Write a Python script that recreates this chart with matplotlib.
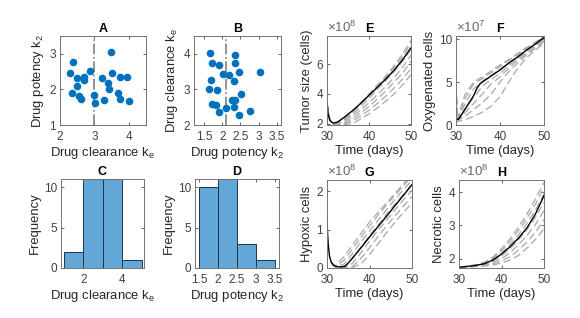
import matplotlib
matplotlib.use('Agg')
import matplotlib.pyplot as plt
import numpy as np

plt.rcParams['font.family'] = ['Liberation Sans', 'DejaVu Sans']
plt.rcParams['mathtext.fontset'] = 'custom'
plt.rcParams['mathtext.rm'] = 'Liberation Sans'
plt.rcParams['mathtext.it'] = 'Liberation Sans:italic'

# parameter samples (drug clearance ke, drug potency k2), 25 sets
ke = [2.29, 2.38, 2.36, 2.48, 2.50, 2.56, 2.60, 2.70, 2.70, 2.88, 2.98, 3.01, 3.23,
      3.27, 3.40, 3.43, 3.49, 3.50, 3.68, 3.73, 3.74, 3.96, 4.02, 1.80, 1.65]
k2 = [2.45, 2.76, 1.90, 2.09, 2.33, 1.82, 1.72, 2.36, 2.26, 2.53, 1.85, 1.62, 2.31,
      1.69, 2.18, 2.02, 3.05, 2.46, 1.91, 2.34, 1.73, 2.34, 1.67, 1.80, 2.65]
ke_ref = 3.0
k2_ref = 2.1
ke_bins = [1, 2, 3, 4, 5]
k2_bins = [1.5, 2, 2.5, 3, 3.5]

# best fit trajectories (black)
t_tum = [30, 30.3, 30.7, 31.5, 32.5, 34, 36, 38, 40, 42, 44, 46, 48, 50]
tumor = [3.4, 2.6, 2.2, 2.02, 2.1, 2.4, 2.85, 3.35, 3.9, 4.45, 5.0, 5.6, 6.3, 7.1]   # x1e8
t_oxy = [30, 30.5, 31, 32, 33, 34, 34.8, 35.4, 36, 38, 40, 42, 44, 46, 48, 50]
oxy = [0.7, 0.65, 1.0, 1.8, 2.6, 3.4, 4.3, 4.75, 5.0, 5.7, 6.4, 7.2, 7.9, 8.7, 9.4, 10.2]  # x1e7
t_hyp = [30, 30.3, 30.6, 31, 31.5, 32.5, 33.5, 34.3, 35, 36, 38, 40, 42, 44, 46, 48, 50]
hyp = [1.15, 0.6, 0.3, 0.15, 0.07, 0.03, 0.03, 0.05, 0.13, 0.26, 0.53, 0.81, 1.08,
       1.35, 1.63, 1.9, 2.18]  # x1e8
t_nec = [30, 32, 34, 36, 38, 40, 42, 44, 46, 48, 50]
nec = [1.74, 1.77, 1.8, 1.85, 1.96, 2.14, 2.36, 2.62, 2.93, 3.35, 3.9]  # x1e8

# sampled trajectories (grey dashed)
t_tum_s = [30, 30.5, 31, 32, 34, 36, 38, 40, 42, 44, 46, 48, 50]
tumor_s = [
    [3.4, 2.4, 2.1, 2.0, 2.3, 2.8, 3.4, 4.0, 4.6, 5.2, 5.9, 6.7, 7.6],
    [3.4, 2.4, 2.1, 2.0, 2.25, 2.7, 3.3, 3.9, 4.5, 5.1, 5.8, 6.5, 7.4],
    [3.4, 2.4, 2.1, 2.0, 2.2, 2.6, 3.1, 3.7, 4.3, 4.9, 5.5, 6.2, 7.0],
    [3.4, 2.4, 2.1, 2.0, 2.1, 2.45, 2.9, 3.4, 3.95, 4.5, 5.1, 5.8, 6.6],
    [3.4, 2.4, 2.05, 1.95, 2.0, 2.3, 2.7, 3.15, 3.65, 4.2, 4.8, 5.4, 6.2],
    [3.4, 2.4, 2.05, 1.95, 1.95, 2.15, 2.5, 2.9, 3.35, 3.85, 4.4, 5.0, 5.7],
    [3.4, 2.4, 2.0, 1.9, 1.9, 2.0, 2.3, 2.65, 3.05, 3.5, 4.0, 4.6, 5.3],
]
t_oxy_s = [30, 30.3, 32, 34, 36, 38, 40, 42, 44, 46, 48, 50]
oxy_s = [
    [4.6, 0.6, 3.5, 5.0, 5.6, 6.3, 7.0, 7.6, 8.3, 9.0, 9.6, 10.3],
    [4.6, 0.6, 3.0, 4.8, 5.4, 6.1, 6.8, 7.5, 8.2, 8.9, 9.6, 10.2],
    [4.6, 0.6, 2.4, 4.2, 5.1, 5.8, 6.5, 7.2, 8.0, 8.7, 9.4, 10.1],
    [4.6, 0.5, 1.8, 3.2, 4.5, 5.3, 6.0, 6.9, 7.7, 8.5, 9.3, 10.0],
    [4.6, 0.5, 1.4, 2.5, 3.6, 4.8, 5.6, 6.6, 7.5, 8.3, 9.1, 9.9],
    [4.6, 0.5, 1.0, 1.8, 2.6, 3.6, 5.0, 6.2, 7.2, 8.1, 8.9, 9.7],
    [4.6, 0.4, 0.6, 1.0, 1.5, 2.2, 3.3, 5.0, 6.6, 7.8, 8.7, 9.5],
]
t_hyp_s = [31, 32, 34, 36, 38, 40, 42, 44, 46, 48, 50]
hyp_s = [
    [0.15, 0.05, 0.3, 0.6, 0.9, 1.2, 1.45, 1.7, 1.95, 2.2, 2.45],
    [0.15, 0.04, 0.2, 0.5, 0.8, 1.1, 1.38, 1.65, 1.9, 2.15, 2.4],
    [0.15, 0.03, 0.1, 0.38, 0.68, 0.97, 1.25, 1.52, 1.8, 2.05, 2.3],
    [0.15, 0.03, 0.04, 0.25, 0.55, 0.85, 1.12, 1.4, 1.67, 1.93, 2.18],
    [0.15, 0.02, 0.02, 0.12, 0.4, 0.7, 0.98, 1.25, 1.52, 1.78, 2.03],
    [0.15, 0.02, 0.01, 0.04, 0.25, 0.53, 0.82, 1.1, 1.36, 1.62, 1.87],
    [0.15, 0.02, 0.01, 0.02, 0.1, 0.35, 0.63, 0.92, 1.2, 1.45, 1.7],
]
t_nec_s = [30, 32, 34, 36, 38, 40, 42, 44, 46, 48, 50]
nec_s = [
    [1.74, 1.77, 1.82, 1.9, 2.05, 2.3, 2.6, 2.95, 3.35, 3.8, 4.3],
    [1.74, 1.77, 1.81, 1.88, 2.02, 2.24, 2.52, 2.85, 3.22, 3.65, 4.15],
    [1.74, 1.76, 1.8, 1.86, 1.98, 2.16, 2.42, 2.72, 3.07, 3.47, 3.95],
    [1.74, 1.76, 1.79, 1.84, 1.94, 2.08, 2.3, 2.57, 2.88, 3.25, 3.7],
    [1.74, 1.76, 1.78, 1.82, 1.9, 2.0, 2.18, 2.42, 2.7, 3.03, 3.45],
    [1.74, 1.75, 1.77, 1.8, 1.85, 1.93, 2.06, 2.26, 2.5, 2.8, 3.18],
    [1.74, 1.75, 1.76, 1.78, 1.81, 1.87, 1.96, 2.1, 2.32, 2.58, 2.9],
]

W, H = 580, 318
fig = plt.figure(figsize=(W / 100, H / 100), dpi=100)


def make_ax(x0, x1, y0, y1):
    ax = fig.add_axes([x0 / W, 1 - y1 / H, (x1 - x0) / W, (y1 - y0) / H])
    for s in ax.spines.values():
        s.set_color('0.45')
        s.set_linewidth(0.7)
    ax.tick_params(direction='in', length=2.5, width=0.6, color='0.3',
                   labelsize=8.5, labelcolor='0.25', top=True, right=True)
    ax.tick_params(axis='x', pad=4)
    ax.tick_params(axis='y', pad=3)
    return ax


def style(ax, title, xlabel, ylabel):
    ax.set_title(title, fontsize=9, fontweight='bold', pad=3)
    ax.set_xlabel(xlabel, fontsize=9.4, color='0.15', labelpad=2)
    ax.set_ylabel(ylabel, fontsize=9.4, color='0.15', labelpad=2)


blue = '#0072BD'
hist_face = '#62a7d8'
hist_edge = '#1e3448'

# A
ax = make_ax(60, 146, 36, 125)
ax.scatter(ke, k2, s=20, color=blue, zorder=3, clip_on=True)
ax.axvline(ke_ref, color='0.5', ls='-.', lw=1.2)
ax.set_xlim(2, 4.5)
ax.set_ylim(1, 3.5)
ax.set_xticks([2, 3, 4])
ax.set_yticks([1, 2, 3])
style(ax, 'A', r'Drug clearance k$_\mathrm{e}$', r'Drug potency k$_\mathrm{2}$')

# B
ax = make_ax(194, 281, 36, 125)
ax.scatter(k2, ke, s=20, color=blue, zorder=3)
ax.axvline(k2_ref, color='0.5', ls='-.', lw=1.2)
ax.set_xlim(1.22, 3.62)
ax.set_ylim(2, 4.5)
ax.set_xticks([1.5, 2, 2.5, 3, 3.5])
ax.set_xticklabels(['1.5', '2', '2.5', '3', '3.5'])
ax.set_yticks([2, 3, 4])
style(ax, 'B', r'Drug potency k$_\mathrm{2}$', r'Drug clearance k$_\mathrm{e}$')

# C
ax = make_ax(61, 144, 179, 268)
ax.hist(ke, bins=ke_bins, color=hist_face, edgecolor=hist_edge, linewidth=0.7)
ax.set_xlim(0.86, 5.1)
ax.set_ylim(0, 11)
ax.set_xticks([2, 4])
ax.set_yticks([0, 5, 10])
style(ax, 'C', r'Drug clearance k$_\mathrm{e}$', 'Frequency')

# D
ax = make_ax(195, 279, 179, 268)
ax.hist(k2, bins=k2_bins, color=hist_face, edgecolor=hist_edge, linewidth=0.7)
ax.set_xlim(1.4, 3.6)
ax.set_ylim(0, 11)
ax.set_xticks([1.5, 2, 2.5, 3, 3.5])
ax.set_xticklabels(['1.5', '2', '2.5', '3', '3.5'])
ax.set_yticks([0, 5, 10])
style(ax, 'D', r'Drug potency k$_\mathrm{2}$', 'Frequency')


def traj(ax, ts, ys, tb, yb, exp):
    for y in ys:
        ax.plot(ts, y, color='0.66', lw=0.9, dashes=(6, 3))
    ax.plot(tb, yb, color='black', lw=1.0)
    ax.set_xlim(30, 50)
    ax.set_xticks([30, 40, 50])
    ax.text(0.0, 1.01, r'$\times10^{%d}$' % exp, transform=ax.transAxes,
            fontsize=9.5, color='0.4', ha='left', va='bottom')


# E
ax = make_ax(327, 411, 36, 125)
traj(ax, t_tum_s, tumor_s, t_tum, tumor, 8)
ax.set_ylim(1.9, 7.9)
ax.set_yticks([2, 4, 6])
style(ax, 'E', 'Time (days)', 'Tumor size (cells)')

# F
ax = make_ax(456, 544, 36, 125)
traj(ax, t_oxy_s, oxy_s, t_oxy, oxy, 7)
ax.set_ylim(0, 10.35)
ax.set_yticks([0, 5, 10])
style(ax, 'F', 'Time (days)', 'Oxygenated cells')

# G
ax = make_ax(327, 412, 180, 268)
traj(ax, t_hyp_s, hyp_s, t_hyp, hyp, 8)
ax.set_ylim(0, 2.3)
ax.set_yticks([0, 1, 2])
style(ax, 'G', 'Time (days)', 'Hypoxic cells')

# H
ax = make_ax(459, 544, 180, 268)
traj(ax, t_nec_s, nec_s, t_nec, nec, 8)
ax.set_ylim(1.72, 4.37)
ax.set_yticks([2, 3, 4])
style(ax, 'H', 'Time (days)', 'Necrotic cells')

fig.savefig('out.png', dpi=100)
